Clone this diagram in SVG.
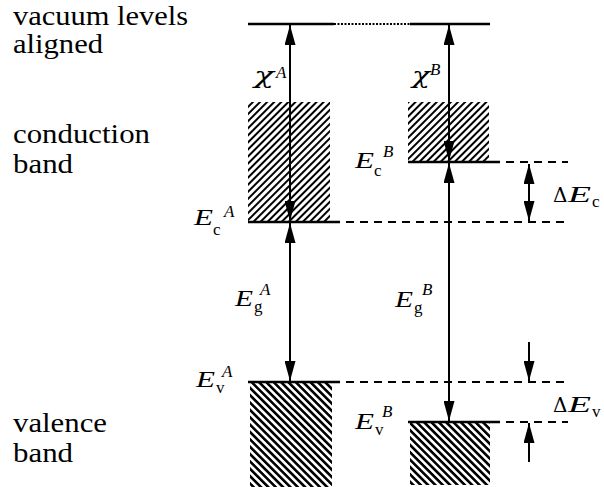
<svg xmlns="http://www.w3.org/2000/svg" width="604" height="487" viewBox="0 0 604 487">
<defs>
<marker id="ah" markerUnits="userSpaceOnUse" markerWidth="20" markerHeight="11" refX="20" refY="5.5" orient="auto-start-reverse" viewBox="0 0 20 11">
<path d="M0,0 L20,5.5 L0,11 z" fill="#000"/>
</marker>
<pattern id="hc" patternUnits="userSpaceOnUse" width="5" height="5" patternTransform="rotate(45)">
<line x1="1" y1="0" x2="1" y2="5" stroke="#000" stroke-width="2"/>
</pattern>
<pattern id="hv" patternUnits="userSpaceOnUse" width="5.2" height="5.2" patternTransform="rotate(-45)">
<line x1="1.3" y1="0" x2="1.3" y2="5.2" stroke="#000" stroke-width="2.6"/>
</pattern>
</defs>
<rect width="604" height="487" fill="#fff"/>

<g id="labels-left" font-family="'Liberation Serif', serif" font-size="27" fill="#000">
<text x="13" y="25" textLength="175" lengthAdjust="spacingAndGlyphs">vacuum levels</text>
<text x="13" y="53" textLength="90" lengthAdjust="spacingAndGlyphs">aligned</text>
<text x="13" y="143" textLength="137" lengthAdjust="spacingAndGlyphs">conduction</text>
<text x="13" y="173" textLength="60" lengthAdjust="spacingAndGlyphs">band</text>
<text x="13" y="432" textLength="94" lengthAdjust="spacingAndGlyphs">valence</text>
<text x="13" y="462" textLength="60" lengthAdjust="spacingAndGlyphs">band</text>
</g>

<g id="vacuum-level" stroke="#000" fill="none">
<line x1="248" y1="24" x2="334" y2="24" stroke-width="2.6"/>
<line x1="334" y1="24" x2="410" y2="24" stroke-width="1.8" stroke-dasharray="2 1.5"/>
<line x1="410" y1="24" x2="490" y2="24" stroke-width="2.6"/>
</g>

<g id="conduction-A">
<rect x="248" y="102" width="82" height="120" fill="url(#hc)"/>
<line x1="248" y1="222" x2="340" y2="222" stroke="#000" stroke-width="2.6"/>
<line x1="346" y1="222" x2="568" y2="222" stroke="#000" stroke-width="2" stroke-dasharray="8 6"/>
</g>

<g id="conduction-B">
<rect x="408" y="102" width="81" height="60" fill="url(#hc)"/>
<line x1="408" y1="162" x2="500" y2="162" stroke="#000" stroke-width="2.6"/>
<line x1="506" y1="162" x2="568" y2="162" stroke="#000" stroke-width="2" stroke-dasharray="8 6"/>
</g>

<g id="valence-A">
<rect x="250" y="382" width="82" height="105" fill="url(#hv)"/>
<line x1="248" y1="382" x2="340" y2="382" stroke="#000" stroke-width="2.6"/>
<line x1="346" y1="382" x2="568" y2="382" stroke="#000" stroke-width="2" stroke-dasharray="8 6"/>
</g>

<g id="valence-B">
<rect x="410" y="422" width="80" height="63" fill="url(#hv)"/>
<line x1="408" y1="422" x2="500" y2="422" stroke="#000" stroke-width="2.6"/>
<line x1="506" y1="422" x2="568" y2="422" stroke="#000" stroke-width="2" stroke-dasharray="8 6"/>
</g>

<g id="connectors" stroke="#000" stroke-width="2" fill="none" marker-end="url(#ah)">
<line x1="290" y1="25" x2="290" y2="221" marker-start="url(#ah)"/>
<line x1="290" y1="223" x2="290" y2="381" marker-start="url(#ah)"/>
<line x1="449" y1="25" x2="449" y2="161" marker-start="url(#ah)"/>
<line x1="449" y1="163" x2="449" y2="421" marker-start="url(#ah)"/>
<line x1="529" y1="164" x2="529" y2="221" marker-start="url(#ah)"/>
<line x1="529" y1="342" x2="529" y2="381"/>
<line x1="529" y1="462" x2="529" y2="423"/>
</g>

<g font-family="'Liberation Serif', serif" fill="#000">
<g id="label-chiA"><text x="254" y="83" font-family="'DejaVu Serif', serif" font-style="italic" font-size="22" textLength="20" lengthAdjust="spacingAndGlyphs">χ</text><text x="276" y="78" font-style="italic" font-size="17">A</text></g>
<g id="label-chiB"><text x="412" y="83" font-family="'DejaVu Serif', serif" font-style="italic" font-size="22" textLength="18" lengthAdjust="spacingAndGlyphs">χ</text><text x="430" y="75" font-style="italic" font-size="17">B</text></g>
<g id="label-EcA"><text x="194" y="225" font-style="italic" font-size="23" textLength="19" lengthAdjust="spacingAndGlyphs">E</text><text x="213" y="235" font-size="17">c</text><text x="224" y="217" font-style="italic" font-size="17">A</text></g>
<g id="label-EcB"><text x="355" y="168" font-style="italic" font-size="23" textLength="19" lengthAdjust="spacingAndGlyphs">E</text><text x="374" y="176" font-size="17">c</text><text x="383" y="157" font-style="italic" font-size="17">B</text></g>
<g id="label-EgA"><text x="235" y="306" font-style="italic" font-size="23" textLength="18" lengthAdjust="spacingAndGlyphs">E</text><text x="254" y="312" font-size="17">g</text><text x="260" y="295" font-style="italic" font-size="17">A</text></g>
<g id="label-EgB"><text x="395" y="307" font-style="italic" font-size="23" textLength="18" lengthAdjust="spacingAndGlyphs">E</text><text x="414" y="313" font-size="17">g</text><text x="422" y="295" font-style="italic" font-size="17">B</text></g>
<g id="label-EvA"><text x="196" y="387" font-style="italic" font-size="23" textLength="19" lengthAdjust="spacingAndGlyphs">E</text><text x="216" y="393" font-size="17">v</text><text x="222" y="377" font-style="italic" font-size="17">A</text></g>
<g id="label-EvB"><text x="355" y="429" font-style="italic" font-size="23" textLength="19" lengthAdjust="spacingAndGlyphs">E</text><text x="375" y="435" font-size="17">v</text><text x="382" y="417" font-style="italic" font-size="17">B</text></g>
<g id="label-dEc"><text x="553" y="202" font-family="'DejaVu Serif', serif" font-size="20">Δ</text><text x="568" y="202" font-style="italic" font-size="23" textLength="23" lengthAdjust="spacingAndGlyphs">E</text><text x="592" y="207" font-size="17">c</text></g>
<g id="label-dEv"><text x="553" y="412" font-family="'DejaVu Serif', serif" font-size="20">Δ</text><text x="568" y="412" font-style="italic" font-size="23" textLength="23" lengthAdjust="spacingAndGlyphs">E</text><text x="592" y="417" font-size="17">v</text></g>
</g>
</svg>
